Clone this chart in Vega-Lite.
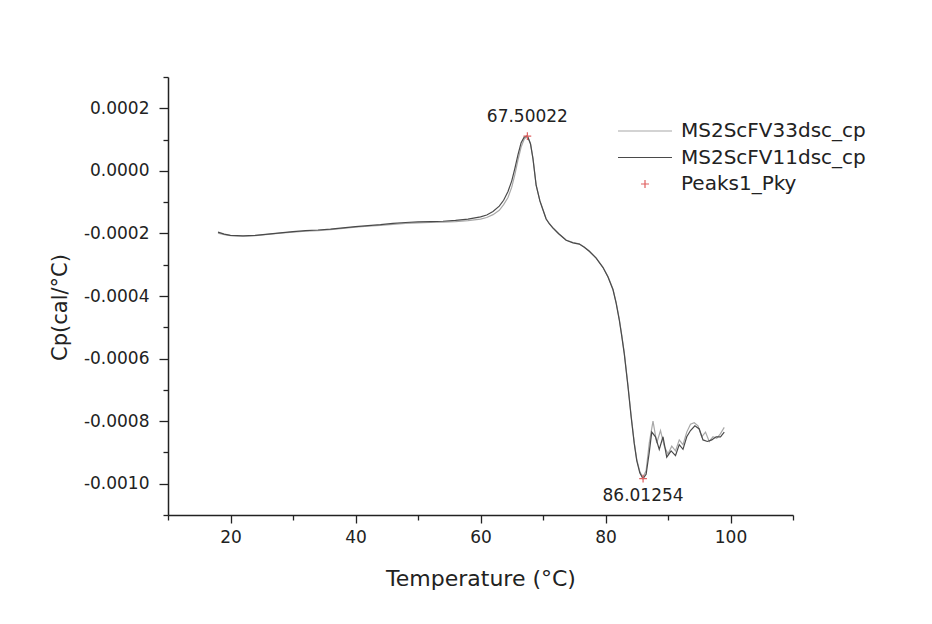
{
  "$schema": "https://vega.github.io/schema/vega-lite/v6.json",
  "width": 625,
  "height": 438,
  "autosize": {"type": "none"},
  "padding": {"left": 168, "top": 77, "right": 139, "bottom": 109},
  "background": "white",
  "config": {
    "view": {"stroke": null},
    "font": "DejaVu Sans",
    "axis": {"grid": false, "domainColor": "#222", "domainWidth": 1.5, "tickColor": "#222", "tickWidth": 1.3, "labelColor": "#222", "titleColor": "#222", "labelFont": "DejaVu Sans", "titleFont": "DejaVu Sans", "titleFontWeight": "normal", "labelOverlap": false}
  },
  "datasets": {
    "curves": [
      {"series": "MS2ScFV33dsc_cp", "T": 18, "Cp": -0.000199},
      {"series": "MS2ScFV33dsc_cp", "T": 19, "Cp": -0.000204},
      {"series": "MS2ScFV33dsc_cp", "T": 20, "Cp": -0.000207},
      {"series": "MS2ScFV33dsc_cp", "T": 22, "Cp": -0.000209},
      {"series": "MS2ScFV33dsc_cp", "T": 24, "Cp": -0.000207},
      {"series": "MS2ScFV33dsc_cp", "T": 26, "Cp": -0.000203},
      {"series": "MS2ScFV33dsc_cp", "T": 28, "Cp": -0.000199},
      {"series": "MS2ScFV33dsc_cp", "T": 30, "Cp": -0.000196},
      {"series": "MS2ScFV33dsc_cp", "T": 32, "Cp": -0.000193},
      {"series": "MS2ScFV33dsc_cp", "T": 34, "Cp": -0.000191},
      {"series": "MS2ScFV33dsc_cp", "T": 36, "Cp": -0.000188},
      {"series": "MS2ScFV33dsc_cp", "T": 38, "Cp": -0.000184},
      {"series": "MS2ScFV33dsc_cp", "T": 40, "Cp": -0.00018},
      {"series": "MS2ScFV33dsc_cp", "T": 42, "Cp": -0.000177},
      {"series": "MS2ScFV33dsc_cp", "T": 44, "Cp": -0.000174},
      {"series": "MS2ScFV33dsc_cp", "T": 46, "Cp": -0.000171},
      {"series": "MS2ScFV33dsc_cp", "T": 48, "Cp": -0.000168},
      {"series": "MS2ScFV33dsc_cp", "T": 50, "Cp": -0.000166},
      {"series": "MS2ScFV33dsc_cp", "T": 52, "Cp": -0.000165},
      {"series": "MS2ScFV33dsc_cp", "T": 54, "Cp": -0.000164},
      {"series": "MS2ScFV33dsc_cp", "T": 56, "Cp": -0.000162},
      {"series": "MS2ScFV33dsc_cp", "T": 58, "Cp": -0.000159},
      {"series": "MS2ScFV33dsc_cp", "T": 60, "Cp": -0.000154},
      {"series": "MS2ScFV33dsc_cp", "T": 61, "Cp": -0.000149},
      {"series": "MS2ScFV33dsc_cp", "T": 62, "Cp": -0.00014},
      {"series": "MS2ScFV33dsc_cp", "T": 63, "Cp": -0.000126},
      {"series": "MS2ScFV33dsc_cp", "T": 63.7, "Cp": -0.000108},
      {"series": "MS2ScFV33dsc_cp", "T": 64.4, "Cp": -0.000085},
      {"series": "MS2ScFV33dsc_cp", "T": 65, "Cp": -0.000052},
      {"series": "MS2ScFV33dsc_cp", "T": 65.5, "Cp": -0.000012},
      {"series": "MS2ScFV33dsc_cp", "T": 66, "Cp": 0.000035},
      {"series": "MS2ScFV33dsc_cp", "T": 66.5, "Cp": 0.000076},
      {"series": "MS2ScFV33dsc_cp", "T": 67, "Cp": 0.000102},
      {"series": "MS2ScFV33dsc_cp", "T": 67.5, "Cp": 0.000111},
      {"series": "MS2ScFV33dsc_cp", "T": 68, "Cp": 0.000088},
      {"series": "MS2ScFV33dsc_cp", "T": 68.4, "Cp": 0.00004},
      {"series": "MS2ScFV33dsc_cp", "T": 68.9, "Cp": -0.000045},
      {"series": "MS2ScFV33dsc_cp", "T": 69.5, "Cp": -0.000095},
      {"series": "MS2ScFV33dsc_cp", "T": 70, "Cp": -0.000124},
      {"series": "MS2ScFV33dsc_cp", "T": 70.5, "Cp": -0.000153},
      {"series": "MS2ScFV33dsc_cp", "T": 71, "Cp": -0.000168},
      {"series": "MS2ScFV33dsc_cp", "T": 71.6, "Cp": -0.000182},
      {"series": "MS2ScFV33dsc_cp", "T": 72.5, "Cp": -0.0002},
      {"series": "MS2ScFV33dsc_cp", "T": 73.7, "Cp": -0.000221},
      {"series": "MS2ScFV33dsc_cp", "T": 74.8, "Cp": -0.000229},
      {"series": "MS2ScFV33dsc_cp", "T": 75.8, "Cp": -0.000233},
      {"series": "MS2ScFV33dsc_cp", "T": 76.6, "Cp": -0.000243},
      {"series": "MS2ScFV33dsc_cp", "T": 77.4, "Cp": -0.000256},
      {"series": "MS2ScFV33dsc_cp", "T": 78.5, "Cp": -0.000278},
      {"series": "MS2ScFV33dsc_cp", "T": 79.6, "Cp": -0.000308},
      {"series": "MS2ScFV33dsc_cp", "T": 80.4, "Cp": -0.000338},
      {"series": "MS2ScFV33dsc_cp", "T": 81.2, "Cp": -0.000378},
      {"series": "MS2ScFV33dsc_cp", "T": 81.7, "Cp": -0.00042},
      {"series": "MS2ScFV33dsc_cp", "T": 82.2, "Cp": -0.000473},
      {"series": "MS2ScFV33dsc_cp", "T": 82.6, "Cp": -0.000525},
      {"series": "MS2ScFV33dsc_cp", "T": 83, "Cp": -0.00058},
      {"series": "MS2ScFV33dsc_cp", "T": 83.6, "Cp": -0.000686},
      {"series": "MS2ScFV33dsc_cp", "T": 84.1, "Cp": -0.000782},
      {"series": "MS2ScFV33dsc_cp", "T": 84.6, "Cp": -0.000868},
      {"series": "MS2ScFV33dsc_cp", "T": 85, "Cp": -0.000922},
      {"series": "MS2ScFV33dsc_cp", "T": 85.5, "Cp": -0.000962},
      {"series": "MS2ScFV33dsc_cp", "T": 86, "Cp": -0.00098},
      {"series": "MS2ScFV33dsc_cp", "T": 86.5, "Cp": -0.000958},
      {"series": "MS2ScFV33dsc_cp", "T": 87, "Cp": -0.00087},
      {"series": "MS2ScFV33dsc_cp", "T": 87.6, "Cp": -0.0008},
      {"series": "MS2ScFV33dsc_cp", "T": 88.2, "Cp": -0.00087},
      {"series": "MS2ScFV33dsc_cp", "T": 88.8, "Cp": -0.00083},
      {"series": "MS2ScFV33dsc_cp", "T": 89.4, "Cp": -0.00088},
      {"series": "MS2ScFV33dsc_cp", "T": 90, "Cp": -0.000905},
      {"series": "MS2ScFV33dsc_cp", "T": 90.6, "Cp": -0.00088},
      {"series": "MS2ScFV33dsc_cp", "T": 91.2, "Cp": -0.000895},
      {"series": "MS2ScFV33dsc_cp", "T": 91.8, "Cp": -0.00086},
      {"series": "MS2ScFV33dsc_cp", "T": 92.4, "Cp": -0.000875},
      {"series": "MS2ScFV33dsc_cp", "T": 93, "Cp": -0.000835},
      {"series": "MS2ScFV33dsc_cp", "T": 93.6, "Cp": -0.00081},
      {"series": "MS2ScFV33dsc_cp", "T": 94.2, "Cp": -0.000805},
      {"series": "MS2ScFV33dsc_cp", "T": 94.8, "Cp": -0.000815},
      {"series": "MS2ScFV33dsc_cp", "T": 95.4, "Cp": -0.00085},
      {"series": "MS2ScFV33dsc_cp", "T": 96, "Cp": -0.000835},
      {"series": "MS2ScFV33dsc_cp", "T": 96.6, "Cp": -0.000865},
      {"series": "MS2ScFV33dsc_cp", "T": 97.2, "Cp": -0.00085},
      {"series": "MS2ScFV33dsc_cp", "T": 97.8, "Cp": -0.000855},
      {"series": "MS2ScFV33dsc_cp", "T": 98.4, "Cp": -0.00084},
      {"series": "MS2ScFV33dsc_cp", "T": 99, "Cp": -0.00082},

      {"series": "MS2ScFV11dsc_cp", "T": 18, "Cp": -0.000196},
      {"series": "MS2ScFV11dsc_cp", "T": 19, "Cp": -0.000202},
      {"series": "MS2ScFV11dsc_cp", "T": 20, "Cp": -0.000206},
      {"series": "MS2ScFV11dsc_cp", "T": 22, "Cp": -0.000208},
      {"series": "MS2ScFV11dsc_cp", "T": 24, "Cp": -0.000206},
      {"series": "MS2ScFV11dsc_cp", "T": 26, "Cp": -0.000202},
      {"series": "MS2ScFV11dsc_cp", "T": 28, "Cp": -0.000198},
      {"series": "MS2ScFV11dsc_cp", "T": 30, "Cp": -0.000194},
      {"series": "MS2ScFV11dsc_cp", "T": 32, "Cp": -0.000191},
      {"series": "MS2ScFV11dsc_cp", "T": 34, "Cp": -0.000189},
      {"series": "MS2ScFV11dsc_cp", "T": 36, "Cp": -0.000186},
      {"series": "MS2ScFV11dsc_cp", "T": 38, "Cp": -0.000182},
      {"series": "MS2ScFV11dsc_cp", "T": 40, "Cp": -0.000178},
      {"series": "MS2ScFV11dsc_cp", "T": 42, "Cp": -0.000175},
      {"series": "MS2ScFV11dsc_cp", "T": 44, "Cp": -0.000172},
      {"series": "MS2ScFV11dsc_cp", "T": 46, "Cp": -0.000168},
      {"series": "MS2ScFV11dsc_cp", "T": 48, "Cp": -0.000165},
      {"series": "MS2ScFV11dsc_cp", "T": 50, "Cp": -0.000163},
      {"series": "MS2ScFV11dsc_cp", "T": 52, "Cp": -0.000162},
      {"series": "MS2ScFV11dsc_cp", "T": 54, "Cp": -0.000161},
      {"series": "MS2ScFV11dsc_cp", "T": 56, "Cp": -0.000158},
      {"series": "MS2ScFV11dsc_cp", "T": 58, "Cp": -0.000154},
      {"series": "MS2ScFV11dsc_cp", "T": 60, "Cp": -0.000147},
      {"series": "MS2ScFV11dsc_cp", "T": 61, "Cp": -0.000141},
      {"series": "MS2ScFV11dsc_cp", "T": 62, "Cp": -0.00013},
      {"series": "MS2ScFV11dsc_cp", "T": 63, "Cp": -0.000113},
      {"series": "MS2ScFV11dsc_cp", "T": 63.7, "Cp": -0.000094},
      {"series": "MS2ScFV11dsc_cp", "T": 64.4, "Cp": -0.000066},
      {"series": "MS2ScFV11dsc_cp", "T": 65, "Cp": -0.000032},
      {"series": "MS2ScFV11dsc_cp", "T": 65.5, "Cp": 0.000008},
      {"series": "MS2ScFV11dsc_cp", "T": 66, "Cp": 0.000052},
      {"series": "MS2ScFV11dsc_cp", "T": 66.5, "Cp": 0.00009},
      {"series": "MS2ScFV11dsc_cp", "T": 67, "Cp": 0.000108},
      {"series": "MS2ScFV11dsc_cp", "T": 67.5, "Cp": 0.000112},
      {"series": "MS2ScFV11dsc_cp", "T": 68, "Cp": 0.000086},
      {"series": "MS2ScFV11dsc_cp", "T": 68.4, "Cp": 0.000038},
      {"series": "MS2ScFV11dsc_cp", "T": 68.9, "Cp": -0.000046},
      {"series": "MS2ScFV11dsc_cp", "T": 69.5, "Cp": -0.000096},
      {"series": "MS2ScFV11dsc_cp", "T": 70, "Cp": -0.000125},
      {"series": "MS2ScFV11dsc_cp", "T": 70.5, "Cp": -0.000154},
      {"series": "MS2ScFV11dsc_cp", "T": 71, "Cp": -0.000169},
      {"series": "MS2ScFV11dsc_cp", "T": 71.6, "Cp": -0.000183},
      {"series": "MS2ScFV11dsc_cp", "T": 72.5, "Cp": -0.000201},
      {"series": "MS2ScFV11dsc_cp", "T": 73.7, "Cp": -0.000222},
      {"series": "MS2ScFV11dsc_cp", "T": 74.8, "Cp": -0.00023},
      {"series": "MS2ScFV11dsc_cp", "T": 75.8, "Cp": -0.000234},
      {"series": "MS2ScFV11dsc_cp", "T": 76.6, "Cp": -0.000244},
      {"series": "MS2ScFV11dsc_cp", "T": 77.4, "Cp": -0.000257},
      {"series": "MS2ScFV11dsc_cp", "T": 78.5, "Cp": -0.000279},
      {"series": "MS2ScFV11dsc_cp", "T": 79.6, "Cp": -0.000309},
      {"series": "MS2ScFV11dsc_cp", "T": 80.4, "Cp": -0.000339},
      {"series": "MS2ScFV11dsc_cp", "T": 81.2, "Cp": -0.00038},
      {"series": "MS2ScFV11dsc_cp", "T": 81.7, "Cp": -0.000423},
      {"series": "MS2ScFV11dsc_cp", "T": 82.2, "Cp": -0.000476},
      {"series": "MS2ScFV11dsc_cp", "T": 82.6, "Cp": -0.000528},
      {"series": "MS2ScFV11dsc_cp", "T": 83, "Cp": -0.000584},
      {"series": "MS2ScFV11dsc_cp", "T": 83.6, "Cp": -0.00069},
      {"series": "MS2ScFV11dsc_cp", "T": 84.1, "Cp": -0.000786},
      {"series": "MS2ScFV11dsc_cp", "T": 84.6, "Cp": -0.000872},
      {"series": "MS2ScFV11dsc_cp", "T": 85, "Cp": -0.000926},
      {"series": "MS2ScFV11dsc_cp", "T": 85.5, "Cp": -0.000966},
      {"series": "MS2ScFV11dsc_cp", "T": 86, "Cp": -0.000984},
      {"series": "MS2ScFV11dsc_cp", "T": 86.5, "Cp": -0.00097},
      {"series": "MS2ScFV11dsc_cp", "T": 87, "Cp": -0.0009},
      {"series": "MS2ScFV11dsc_cp", "T": 87.4, "Cp": -0.000835},
      {"series": "MS2ScFV11dsc_cp", "T": 88, "Cp": -0.00085},
      {"series": "MS2ScFV11dsc_cp", "T": 88.6, "Cp": -0.00089},
      {"series": "MS2ScFV11dsc_cp", "T": 89.2, "Cp": -0.00085},
      {"series": "MS2ScFV11dsc_cp", "T": 89.8, "Cp": -0.000915},
      {"series": "MS2ScFV11dsc_cp", "T": 90.5, "Cp": -0.000895},
      {"series": "MS2ScFV11dsc_cp", "T": 91.2, "Cp": -0.00091},
      {"series": "MS2ScFV11dsc_cp", "T": 91.8, "Cp": -0.000875},
      {"series": "MS2ScFV11dsc_cp", "T": 92.4, "Cp": -0.00089},
      {"series": "MS2ScFV11dsc_cp", "T": 93, "Cp": -0.00085},
      {"series": "MS2ScFV11dsc_cp", "T": 93.6, "Cp": -0.00083},
      {"series": "MS2ScFV11dsc_cp", "T": 94.3, "Cp": -0.000815},
      {"series": "MS2ScFV11dsc_cp", "T": 95, "Cp": -0.000825},
      {"series": "MS2ScFV11dsc_cp", "T": 95.6, "Cp": -0.00086},
      {"series": "MS2ScFV11dsc_cp", "T": 96.3, "Cp": -0.000865},
      {"series": "MS2ScFV11dsc_cp", "T": 97, "Cp": -0.00086},
      {"series": "MS2ScFV11dsc_cp", "T": 97.7, "Cp": -0.00085},
      {"series": "MS2ScFV11dsc_cp", "T": 98.4, "Cp": -0.00085},
      {"series": "MS2ScFV11dsc_cp", "T": 99, "Cp": -0.000835}
    ],
    "peaks": [
      {"series": "Peaks1_Pky", "T": 67.50022, "Cp": 0.000111, "label": "67.50022", "pos": "above"},
      {"series": "Peaks1_Pky", "T": 86.01254, "Cp": -0.000984, "label": "86.01254", "pos": "below"}
    ]
  },
  "encoding": {
    "x": {"field": "T", "type": "quantitative", "scale": {"domain": [10, 110], "nice": false, "zero": false},
      "axis": {"title": "Temperature (°C)", "values": [10, 20, 30, 40, 50, 60, 70, 80, 90, 100, 110],
        "labelExpr": "datum.value % 20 === 0 ? datum.label : ''",
        "tickSize": {"condition": {"test": "datum.value % 20 === 0", "value": 8}, "value": 5},
        "labelFontSize": 17, "labelPadding": 6, "titleFontSize": 22, "titleX": 312.5, "titleY": 70, "titleBaseline": "alphabetic"}},
    "y": {"field": "Cp", "type": "quantitative", "scale": {"domain": [-0.0011, 0.0003], "nice": false, "zero": false},
      "axis": {"title": "Cp(cal/°C)", "values": [-0.0011, -0.001, -0.0009, -0.0008, -0.0007, -0.0006, -0.0005, -0.0004, -0.0003, -0.0002, -0.0001, 0, 0.0001, 0.0002, 0.0003],
        "labelExpr": "abs(round(datum.value*10000)) % 2 === 0 ? replace(format(datum.value, '.4f'), '\u2212', '-') : ''",
        "tickSize": {"condition": {"test": "abs(round(datum.value*10000)) % 2 === 0", "value": 9}, "value": 5},
        "labelFontSize": 17, "labelPadding": 10, "titleFontSize": 21, "titleX": -102, "titleY": 230, "titleBaseline": "alphabetic", "titleAngle": -90}},
    "color": {"field": "series", "type": "nominal",
      "scale": {"domain": ["MS2ScFV33dsc_cp", "MS2ScFV11dsc_cp", "Peaks1_Pky"], "range": ["#a8a8a8", "#4a4a4a", "#e06060"]},
      "legend": {"title": null, "orient": "none", "legendX": 467, "legendY": 44, "symbolType": "M-5.4,0H5.4", "symbolSize": 100, "symbolStrokeWidth": 1.2,
        "labelFont": "DejaVu Sans", "labelFontSize": 20, "labelColor": "#222", "labelLimit": 0, "rowPadding": 6.5, "labelOffset": 26,
        "encode": {"symbols": {"update": {
          "shape": {"signal": "datum.value === 'Peaks1_Pky' ? 'M-0.8,0H0.8M0,-0.8V0.8' : 'M-5.4,0H5.4'"},
          "strokeWidth": {"value": 1.2}
        }}}}
    }
  },
  "layer": [
    {"data": {"name": "curves"}, "mark": {"type": "line", "strokeWidth": 1.2}, "encoding": {"detail": {"field": "series"}}},
    {"data": {"name": "peaks"}, "mark": {"type": "point", "shape": "M-1,0H1M0,-1V1", "filled": false, "size": 60, "strokeWidth": 1.2, "opacity": 1}},
    {"data": {"name": "peaks"}, "transform": [{"filter": "datum.pos === 'above'"}], "mark": {"type": "text", "font": "DejaVu Sans", "fontSize": 17, "baseline": "alphabetic", "dy": -14, "color": "#222"}, "encoding": {"text": {"field": "label"}, "color": {"value": "#222"}}},
    {"data": {"name": "peaks"}, "transform": [{"filter": "datum.pos === 'below'"}], "mark": {"type": "text", "font": "DejaVu Sans", "fontSize": 17, "baseline": "top", "dy": 9, "color": "#222"}, "encoding": {"text": {"field": "label"}, "color": {"value": "#222"}}}
  ]
}
